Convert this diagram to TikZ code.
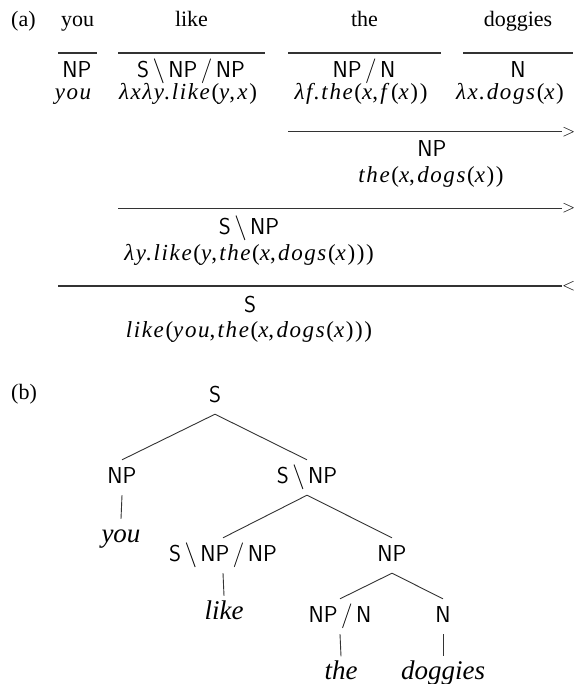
\documentclass[tikz,border=0pt]{standalone}
\usepackage{fontspec}
\setmainfont{Liberation Serif}
\newfontfamily\semfont{Liberation Serif}[LetterSpace=7]
\newcommand\Lp{\textup{(}}
\newcommand\Rp{\textup{)}}
\newcommand\Cm{\textup{,}\kern0.1em}
\newcommand\cbs{\kern0.15em$\backslash$\kern0.15em}
\newcommand\csl{\kern0.15em$/$\kern0.15em}
\tikzset{
  atbase/.style={anchor=base, inner sep=0pt},
  word/.style={atbase, font=\fontsize{22}{26}\selectfont\rmfamily},
  cat/.style={atbase, font=\fontsize{23}{27}\selectfont\sffamily},
  sem/.style={atbase, font=\fontsize{23}{27}\selectfont\semfont\itshape},
  rule/.style={line width=1.1pt, black!80},
  rulemark/.style={anchor=west, inner sep=0pt, font=\fontsize{16}{16}\selectfont},
  tcat/.style={cat, text height=15pt, text depth=4pt, inner ysep=8pt, inner xsep=1pt},
  tleaf/.style={atbase, font=\fontsize{27}{30}\selectfont\itshape, text height=15pt, text depth=4pt, inner ysep=8pt, inner xsep=1pt},
  treeline/.style={line width=0.9pt, black!80},
}
\begin{document}
\begin{tikzpicture}[x=1pt,y=-1pt]
\useasboundingbox (0,0) rectangle (576,684);
% ---------- (a) ----------
\node[word, anchor=base west] (labA) at (11,27) {(a)};
\node[word] (w1) at (77.5,27) {you};
\node[word] (w2) at (191.5,27) {like};
\node[word] (w3) at (364.5,27) {the};
\node[word] (w4) at (518,27) {doggies};
% lexical rules
\coordinate (l1a) at (58,53);  \coordinate (l1b) at (97,53);
\coordinate (l2a) at (118,53); \coordinate (l2b) at (265,53);
\coordinate (l3a) at (288,53); \coordinate (l3b) at (441,53);
\coordinate (l4a) at (463,53); \coordinate (l4b) at (573,53);
\draw[rule] (l1a) -- (l1b);
\draw[rule] (l2a) -- (l2b);
\draw[rule] (l3a) -- (l3b);
\draw[rule] (l4a) -- (l4b);
% lexical categories
\node[cat] (c1) at (77,78) {NP};
\node[cat] (c2) at (191,78) {S\cbs NP\csl NP};
\node[cat] (c3) at (364,78) {NP\csl N};
\node[cat] (c4) at (518,78) {N};
% lexical semantics
\node[sem] (s1) at (73,100) {you};
\node[sem] (s2) at (188,100) {λxλy.like\Lp y\Cm x\Rp};
\node[sem] (s3) at (361,100) {λf.the\Lp x\Cm f\Lp x\Rp\Rp};
\node[sem] (s4) at (510,100) {λx.dogs\Lp x\Rp};
% combination 1
\coordinate (k1a) at (288,131.7); \coordinate (k1b) at (562,131.7);
\draw[rule] (k1a) -- (k1b);
\node[rulemark] (m1) at (k1b) {$>$};
\node[cat] (r1c) at (432,157) {NP};
\node[sem] (r1s) at (431,183) {the\Lp x\Cm dogs\Lp x\Rp\Rp};
% combination 2
\coordinate (k2a) at (118,208.3); \coordinate (k2b) at (562,208.3);
\draw[rule] (k2a) -- (k2b);
\node[rulemark] (m2) at (k2b) {$>$};
\node[cat] (r2c) at (249,235) {S\cbs NP};
\node[sem] (r2s) at (249,260) {λy.like\Lp y\Cm the\Lp x\Cm dogs\Lp x\Rp\Rp\Rp};
% combination 3
\coordinate (k3a) at (58,286); \coordinate (k3b) at (562,286);
\draw[rule] (k3a) -- (k3b);
\node[rulemark] (m3) at (k3b) {$<$};
\node[cat] (r3c) at (250,312) {S};
\node[sem] (r3s) at (249,337) {like\Lp you\Cm the\Lp x\Cm dogs\Lp x\Rp\Rp\Rp};
% ---------- (b) ----------
\node[word, anchor=base west] (labB) at (11,399) {(b)};
\node[tcat] (tS) at (215,402) {S};
\node[tcat] (tNP) at (122,483) {NP};
\node[tcat] (tSNP) at (307,483) {S\cbs NP};
\node[tleaf] (tyou) at (121,542) {you};
\node[tcat] (tV) at (223,561) {S\cbs NP\csl NP};
\node[tcat] (tNP2) at (392,561) {NP};
\node[tleaf] (tlike) at (224,619) {like};
\node[tcat] (tDet) at (340,622) {NP\csl N};
\node[tcat] (tN) at (443,622) {N};
\node[tleaf] (tthe) at (341,679.5) {the};
\node[tleaf] (tdog) at (443,679.5) {doggies};
\draw[treeline] (tS.south) -- (tNP.north);
\draw[treeline] (tS.south) -- (tSNP.north);
\draw[treeline] (tNP.south) -- (tyou.north);
\draw[treeline] (tSNP.south) -- (tV.north);
\draw[treeline] (tSNP.south) -- (tNP2.north);
\draw[treeline] (tV.south) -- (tlike.north);
\draw[treeline] (tNP2.south) -- (tDet.north);
\draw[treeline] (tNP2.south) -- (tN.north);
\draw[treeline] (tDet.south) -- (tthe.north);
\draw[treeline] (tN.south) -- (tdog.north);
\end{tikzpicture}
\end{document}
